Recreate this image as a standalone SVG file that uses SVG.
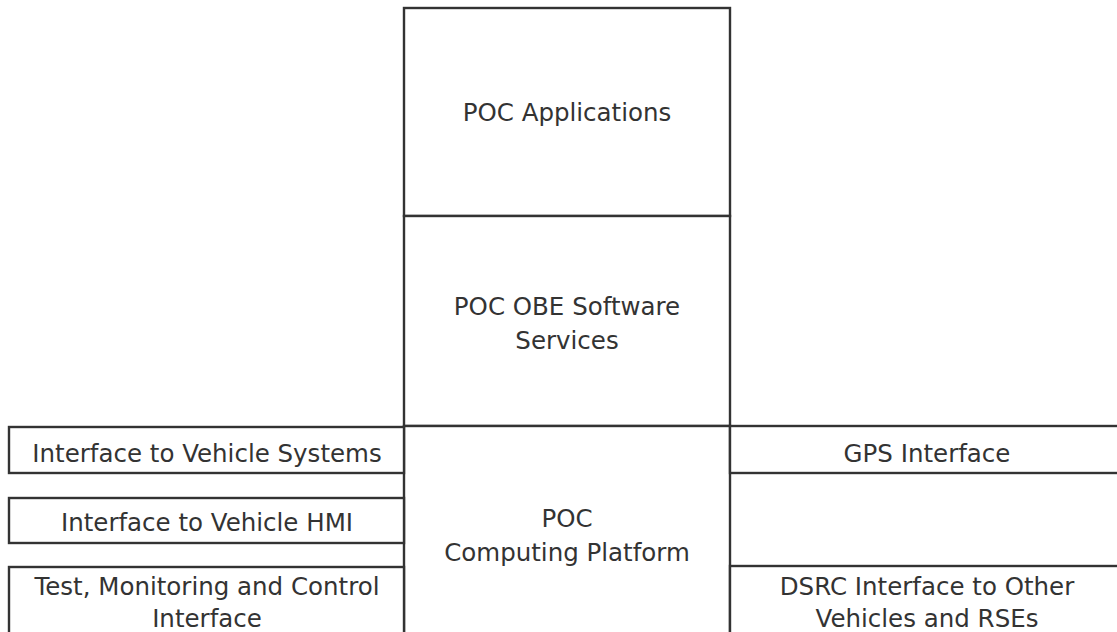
<svg xmlns="http://www.w3.org/2000/svg" width="1117" height="632" viewBox="0 0 1117 632">
  <style>
    .box { fill: #ffffff; stroke: #333333; stroke-width: 2.4; }
    .lbl { font-family: "DejaVu Sans", Verdana, sans-serif; font-size: 24.5px; fill: #333333; text-anchor: middle; }
  </style>
  <rect width="1117" height="632" fill="#ffffff"/>

  <!-- central stack -->
  <g id="poc-applications">
    <rect class="box" x="404" y="8" width="326" height="208"/>
    <text class="lbl" x="567" y="121">POC Applications</text>
  </g>
  <g id="poc-obe-software-services">
    <rect class="box" x="404" y="216" width="326" height="210"/>
    <text class="lbl" x="567" y="315">POC OBE Software</text>
    <text class="lbl" x="567" y="349">Services</text>
  </g>
  <g id="poc-computing-platform">
    <rect class="box" x="404" y="426" width="326" height="220"/>
    <text class="lbl" x="567" y="527">POC</text>
    <text class="lbl" x="567" y="561">Computing Platform</text>
  </g>

  <!-- left-side interfaces -->
  <g id="if-vehicle-systems">
    <rect class="box" x="9" y="427" width="395" height="46"/>
    <text class="lbl" x="207" y="462">Interface to Vehicle Systems</text>
  </g>
  <g id="if-vehicle-hmi">
    <rect class="box" x="9" y="498" width="395" height="45"/>
    <text class="lbl" x="207" y="531">Interface to Vehicle HMI</text>
  </g>
  <g id="if-test-monitoring">
    <rect class="box" x="9" y="567" width="395" height="80"/>
    <text class="lbl" x="207" y="595">Test, Monitoring and Control</text>
    <text class="lbl" x="207" y="627">Interface</text>
  </g>

  <!-- right-side interfaces -->
  <g id="if-gps">
    <rect class="box" x="730" y="426" width="400" height="47"/>
    <text class="lbl" x="927" y="462">GPS Interface</text>
  </g>
  <g id="if-dsrc">
    <rect class="box" x="730" y="566" width="400" height="80"/>
    <text class="lbl" x="927" y="595">DSRC Interface to Other</text>
    <text class="lbl" x="927" y="627">Vehicles and RSEs</text>
  </g>

  <g id="connectors"/>
</svg>
